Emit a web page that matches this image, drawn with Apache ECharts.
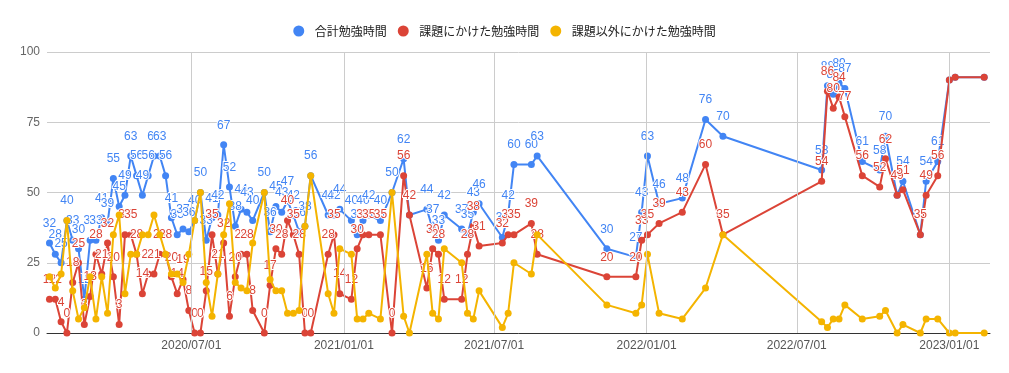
<!DOCTYPE html>
<html><head><meta charset="utf-8">
<script src="https://cdn.jsdelivr.net/npm/echarts@6/dist/echarts.min.js"></script>
<style>html,body{margin:0;padding:0;background:#fff}#c{width:1009px;height:373px}</style>
</head><body><div id="c"></div>
<script>
const seriesNames = ['合計勉強時間', '課題にかけた勉強時間', '課題以外にかけた勉強時間'];
const dates = ['2020-01-12','2020-01-19','2020-01-26','2020-02-02','2020-02-09','2020-02-16','2020-02-23','2020-03-01','2020-03-08','2020-03-15',
'2020-03-22','2020-03-29','2020-04-05','2020-04-12','2020-04-19','2020-04-26','2020-05-03','2020-05-10','2020-05-17','2020-05-24',
'2020-05-31','2020-06-07','2020-06-14','2020-06-21','2020-06-28','2020-07-05','2020-07-12','2020-07-19','2020-07-26','2020-08-02',
'2020-08-09','2020-08-16','2020-08-23','2020-08-30','2020-09-06','2020-09-13','2020-09-27','2020-10-04','2020-10-11','2020-10-18',
'2020-10-25','2020-11-01','2020-11-08','2020-11-15','2020-11-22','2020-12-13','2020-12-20','2020-12-27','2021-01-10','2021-01-17',
'2021-01-24','2021-01-31','2021-02-14','2021-02-28','2021-03-14','2021-03-21','2021-04-11','2021-04-18','2021-04-25','2021-05-02',
'2021-05-23','2021-05-30','2021-06-06','2021-06-13','2021-07-11','2021-07-18','2021-07-25','2021-08-15','2021-08-22','2021-11-14',
'2021-12-19','2021-12-26','2022-01-02','2022-01-16','2022-02-13','2022-03-13','2022-04-03','2022-07-31','2022-08-07','2022-08-14',
'2022-08-21','2022-08-28','2022-09-18','2022-10-09','2022-10-16','2022-10-30','2022-11-06','2022-11-27','2022-12-04','2022-12-18',
'2023-01-01','2023-01-08','2023-02-12'];
const totalHours = [32,28,25,40,33,30,12,33,33,41, 39,55,45,49,63,56,49,56,63,63, 56,41,35,37,36,40,50,33,41,42,
67,52,38,44,43,40,50,36,45,43, 47,42,36,38,56,42,42,44,40,35, 40,42,40,50,62,42,44,37,33,42,
37,35,43,46,34,42,60,60,63,30, 27,43,63,46,48,76,70,58,88,85, 89,87,61,58,70,49,54,35,54,61, 90,91,91];
const assignedHours = [12,12,4,0,18,25,3,13,28,21, 32,20,3,35,35,28,14,21,21,28, 28,20,14,19,8,0,0,15,35,21,
32,6,20,28,28,8,0,17,30,28, 40,35,28,0,0,28,35,14,12,30, 35,35,35,0,56,42,16,30,28,12,
12,28,38,31,32,35,35,39,28,20, 20,33,35,39,43,60,35,54,86,80, 84,77,56,52,62,49,51,35,49,56, 90,91,91];
const otherHours = [20,16,21,40,15,5,9,20,5,20, 7,35,42,14,28,28,35,35,42,35, 28,21,21,18,28,40,50,18,6,21,
35,46,18,16,15,32,50,19,15,15, 7,7,8,38,56,14,7,30,28,5, 5,7,5,50,6,0,28,7,5,30,
25,7,5,15,2,7,25,21,35,10, 7,10,28,7,5,16,35,4,2,5, 5,10,5,6,8,0,3,0,5,5, 0,0,0];
const xTickDates = ['2020-07-01','2021-01-01','2021-07-01','2022-01-01','2022-07-01','2023-01-01'];
const yTicks = [0, 25, 50, 75, 100];
const xRange = ['2020-01-09', '2023-02-19'];

function ts(s){ const p = s.split('-').map(Number); return new Date(p[0], p[1]-1, p[2]).getTime(); }
function pad(n){ return (n<10?'0':'')+n; }
function fmt(v){ const d = new Date(v); return d.getFullYear()+'/'+pad(d.getMonth()+1)+'/'+pad(d.getDate()); }

const colors = ['#4285F4', '#DB4437', '#F4B400'];
const hideLabelFrom = dates.length - 3;

function mk(vals, withLabel){
  return vals.map((v,i)=>{
    const item = { value: [ts(dates[i]), v] };
    if (withLabel && i >= hideLabelFrom) item.label = { show: false };
    return item;
  });
}
function lineSeries(idx, vals, withLabel){
  return {
    name: seriesNames[idx], type: 'line', data: mk(vals, withLabel),
    symbol: 'circle', symbolSize: 7, showSymbol: true,
    lineStyle: { width: 2, color: colors[idx] }, itemStyle: { color: colors[idx] },
    z: 2 + idx,
    label: withLabel ? { show: true, position: 'top', distance: 10, color: colors[idx],
      fontFamily: 'Arial', fontSize: 12, textBorderColor: '#fff', textBorderWidth: 2 } : { show: false },
    emphasis: { disabled: true }
  };
}

const chart = echarts.init(document.getElementById('c'), null, { renderer: 'canvas' });
chart.setOption({
  animation: false,
  color: colors,
  grid: { left: 47, right: 19, top: 52, bottom: 40, containLabel: false },
  legend: {
    top: 20, left: 'center', icon: 'circle', itemWidth: 22, itemHeight: 11, itemGap: 11,
    textStyle: { fontFamily: 'Noto Sans CJK JP', fontSize: 12, color: '#222' },
    data: seriesNames
  },
  xAxis: {
    type: 'time', min: ts(xRange[0]), max: ts(xRange[1]),
    axisLine: { show: true, lineStyle: { color: '#333', width: 1 } },
    axisTick: { show: false },
    splitLine: { show: false },
    axisLabel: { show: false }
  },
  yAxis: {
    type: 'value', min: yTicks[0], max: yTicks[yTicks.length-1], interval: 25,
    axisLine: { show: false }, axisTick: { show: false },
    splitLine: { lineStyle: { color: '#ccc', width: 1 } },
    axisLabel: { color: '#666', fontFamily: 'Arial', fontSize: 12, margin: 7 }
  },
  series: [
    { type: 'line', data: [], silent: true, z: 1,
      markLine: { silent: true, symbol: ['none','none'], animation: false,
        label: { show: true, position: 'start', distance: 7, formatter: p => fmt(p.value),
          color: '#555', fontFamily: 'Arial', fontSize: 12 },
        lineStyle: { color: '#ccc', type: 'solid', width: 1 },
        data: xTickDates.map(d => ({ xAxis: ts(d) })) } },
    lineSeries(0, totalHours, true),
    lineSeries(1, assignedHours, true),
    lineSeries(2, otherHours, false)
  ]
});
</script></body></html>
